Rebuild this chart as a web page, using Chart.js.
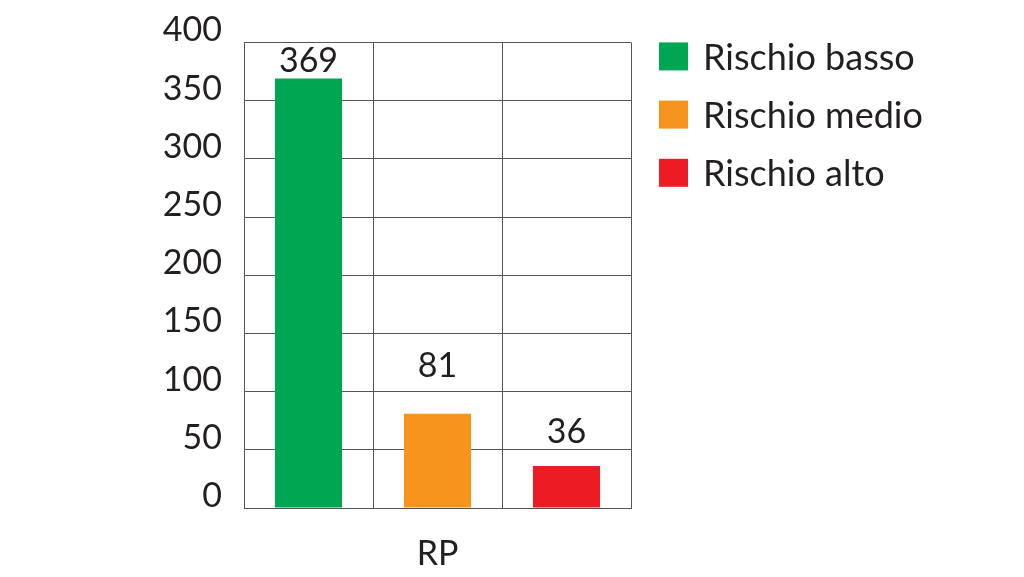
<!DOCTYPE html>
<html>
<head>
<meta charset="utf-8">
<script src="https://cdn.jsdelivr.net/npm/chart.js@4.4.0/dist/chart.umd.min.js"></script>
<style>
html,body{margin:0;padding:0;background:#fff;}
#wrap{width:1024px;height:577px;position:relative;}
</style>
</head>
<body>
<div id="wrap"><canvas id="c"></canvas></div>
<script>
const categories = ['Rischio basso', 'Rischio medio', 'Rischio alto'];
const seriesNames = ['Rischio basso', 'Rischio medio', 'Rischio alto'];
const values = [369, 81, 36];
const axisTitle = 'RP';
const yTicks = [0, 50, 100, 150, 200, 250, 300, 350, 400];

const colors = ['#00a651', '#f7941d', '#ed1c24'];
const labelPads = [6, 37, 23];
const FONT = 'Lato';
const TEXT = '#231f20';

const datasets = seriesNames.map((name, i) => ({
  label: name,
  data: categories.map((c, j) => (j === i ? values[i] : null)),
  backgroundColor: colors[i],
  borderWidth: 0,
  barPercentage: 0.52,
  categoryPercentage: 1.0,
  labelPad: labelPads[i]
}));

const valueLabels = {
  id: 'valueLabels',
  afterDatasetsDraw(chart) {
    const ctx = chart.ctx;
    ctx.save();
    ctx.font = '34px ' + FONT;
    ctx.fillStyle = TEXT;
    ctx.textAlign = 'center';
    ctx.textBaseline = 'alphabetic';
    chart.data.datasets.forEach((ds, i) => {
      const meta = chart.getDatasetMeta(i);
      meta.data.forEach((el, j) => {
        const v = ds.data[j];
        if (v === null || v === undefined) return;
        ctx.fillText(String(v), el.x, el.y - ds.labelPad);
      });
    });
    ctx.restore();
  }
};

const sideLegend = {
  id: 'sideLegend',
  afterDraw(chart) {
    const ctx = chart.ctx;
    ctx.save();
    ctx.font = '36px ' + FONT;
    ctx.fillStyle = TEXT;
    ctx.textAlign = 'left';
    ctx.textBaseline = 'middle';
    const x0 = chart.chartArea.right + 28;
    const step = (chart.chartArea.bottom - chart.chartArea.top) / 8;
    chart.data.datasets.forEach((ds, i) => {
      const y = chart.chartArea.top + i * step;
      ctx.fillStyle = ds.backgroundColor;
      ctx.fillRect(x0, y, 29, 28);
      ctx.fillStyle = TEXT;
      ctx.fillText(ds.label, x0 + 44, y + 16);
    });
    ctx.restore();
  }
};

new Chart(document.getElementById('c'), {
  type: 'bar',
  data: { labels: categories, datasets },
  options: {
    responsive: true,
    maintainAspectRatio: false,
    animation: false,
    layout: { padding: { top: 42, right: 393, bottom: 0, left: 0 } },
    plugins: { legend: { display: false }, tooltip: { enabled: false } },
    datasets: { bar: { skipNull: true } },
    scales: {
      x: {
        grid: { display: true, offset: true, color: '#555', lineWidth: 1, drawTicks: false },
        border: { display: true, color: '#555', width: 1 },
        ticks: { display: false },
        title: { display: true, text: axisTitle, color: TEXT, font: { family: FONT, size: 34 }, padding: { top: 0, bottom: 3 } },
        afterFit(scale) { scale.height = 69; }
      },
      y: {
        min: 0,
        max: 400,
        afterBuildTicks(scale) { scale.ticks = yTicks.map(v => ({ value: v })); },
        grid: { color: '#555', lineWidth: 1, drawTicks: false },
        border: { display: true, color: '#555', width: 1 },
        ticks: { color: TEXT, font: { family: FONT, size: 34 }, padding: 22, labelOffset: -12 },
        afterFit(scale) { scale.width = 244; }
      }
    }
  },
  plugins: [valueLabels, sideLegend]
});
</script>
</body>
</html>
